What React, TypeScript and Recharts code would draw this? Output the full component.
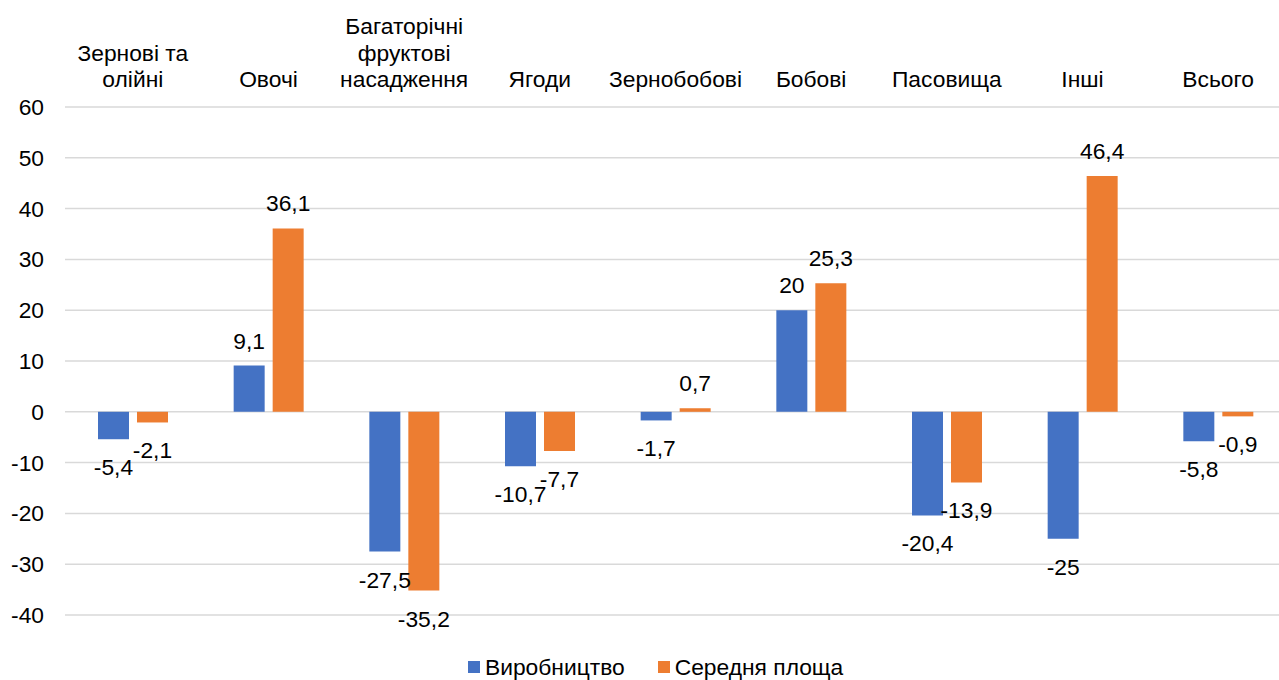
import React from "react";
import { BarChart, Bar, XAxis, YAxis, CartesianGrid, Legend, LabelList } from "recharts";

const categories = [
  "Зернові та\nолійні",
  "Овочі",
  "Багаторічні\nфруктові\nнасадження",
  "Ягоди",
  "Зернобобові",
  "Бобові",
  "Пасовища",
  "Інші",
  "Всього",
];
const production = [-5.4, 9.1, -27.5, -10.7, -1.7, 20, -20.4, -25, -5.8];
const avgArea = [-2.1, 36.1, -35.2, -7.7, 0.7, 25.3, -13.9, 46.4, -0.9];
const yTicks = [-40, -30, -20, -10, 0, 10, 20, 30, 40, 50, 60];
const seriesNames = ["Виробництво", "Середня площа"];

const COLORS = ["#4472C4", "#ED7D31"];
const FONT = "'Liberation Sans', Arial, sans-serif";
const FS = 22.8;

const data = categories.map((name, i) => ({
  name,
  production: production[i],
  avgArea: avgArea[i],
}));

const fmt = (v: number) => String(v).replace(".", ",");

const CategoryTick = (props: any) => {
  const { x, y, payload } = props;
  const lines = String(payload.value).split("\n");
  const lh = 26.5;
  const baseLast = y - 20;
  return (
    <text textAnchor="middle" fontFamily={FONT} fontSize={FS} fill="#000">
      {lines.map((l, i) => (
        <tspan key={i} x={x} y={baseLast - (lines.length - 1 - i) * lh}>
          {l}
        </tspan>
      ))}
    </text>
  );
};

const ValueLabel = (props: any) => {
  const { x, y, width, height, value } = props;
  const v = Number(value);
  const top = Math.min(y, y + height);
  const bottom = Math.max(y, y + height);
  const cx = x + width / 2;
  const ty = v >= 0 ? top - 17 : bottom + 36;
  return (
    <text x={cx} y={ty} textAnchor="middle" fontFamily={FONT} fontSize={FS} fill="#000">
      {fmt(v)}
    </text>
  );
};

const LegendContent = () => (
  <div
    style={{
      display: "flex",
      alignItems: "center",
      paddingLeft: 468,
      paddingTop: 39,
      height: 26,
      fontFamily: FONT,
      fontSize: FS,
      color: "#000",
      lineHeight: "26px",
      whiteSpace: "nowrap",
    }}
  >
    {seriesNames.map((n, i) => (
      <div key={n} style={{ display: "flex", alignItems: "center", marginRight: 33 }}>
        <span style={{ width: 12, height: 12, background: COLORS[i], display: "inline-block", marginRight: 5 }} />
        <span>{n}</span>
      </div>
    ))}
  </div>
);

export default function App() {
  return (
    <div style={{ position: "absolute", left: 0, top: 0, width: 1279, height: 680, overflow: "hidden", background: "#fff" }}>
      <BarChart
        width={1286}
        height={680}
        data={data}
        margin={{ top: 0, right: 0, bottom: 0, left: 0 }}
        barSize={31}
        barGap={8}
      >
        <CartesianGrid vertical={false} stroke="#d9d9d9" strokeWidth={1.5} />
        <XAxis
          dataKey="name"
          orientation="top"
          height={107}
          axisLine={false}
          tickLine={false}
          tickSize={0}
          tickMargin={0}
          interval={0}
          tick={<CategoryTick />}
        />
        <YAxis
          domain={[-40, 60]}
          ticks={yTicks}
          interval={0}
          width={65}
          axisLine={false}
          tickLine={false}
          tickSize={0}
          tickMargin={21}
          tick={{ fontFamily: FONT, fontSize: FS, fill: "#000" }}
        />
        <Legend verticalAlign="bottom" align="left" content={<LegendContent />} wrapperStyle={{ left: 0, width: 1286 }} />
        <Bar dataKey="production" name={seriesNames[0]} fill={COLORS[0]} isAnimationActive={false}>
          <LabelList dataKey="production" content={<ValueLabel />} />
        </Bar>
        <Bar dataKey="avgArea" name={seriesNames[1]} fill={COLORS[1]} isAnimationActive={false}>
          <LabelList dataKey="avgArea" content={<ValueLabel />} />
        </Bar>
      </BarChart>
    </div>
  );
}
